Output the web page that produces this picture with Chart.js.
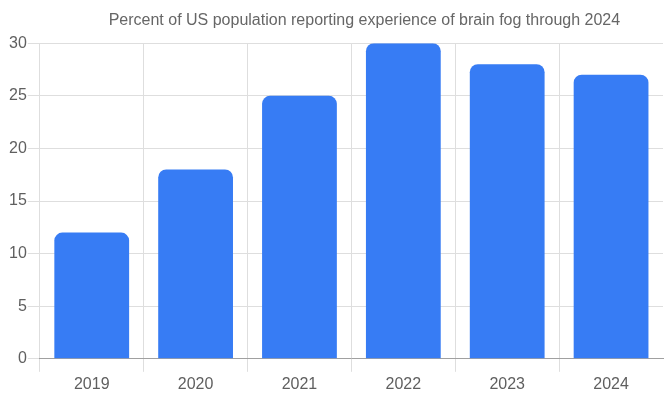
<!DOCTYPE html>
<html>
<head>
<meta charset="utf-8">
<script src="https://cdn.jsdelivr.net/npm/chart.js@4/dist/chart.umd.min.js"></script>
<style>
  html, body { margin: 0; padding: 0; background: #fff; }
  #wrap { width: 667px; height: 400px; position: relative; }
</style>
</head>
<body>
<div id="wrap"><canvas id="myChart"></canvas></div>
<script>
const years = ['2019', '2020', '2021', '2022', '2023', '2024'];
const percents = [12, 18, 25, 30, 28, 27];
const yTicks = [0, 5, 10, 15, 20, 25, 30];
const titleText = 'Percent of US population reporting experience of brain fog through 2024';

const FONT = "'Liberation Sans', Arial, sans-serif";

// title is centred over the plot area, nudged a little right as in the original
const shiftedTitle = {
    id: 'shiftedTitle',
    afterDraw(chart) {
        const c = chart.ctx;
        const area = chart.chartArea;
        const t = chart.titleBlock;
        c.save();
        c.font = '16px ' + FONT;
        c.fillStyle = '#666';
        c.textAlign = 'center';
        c.textBaseline = 'middle';
        c.fillText(titleText, (area.left + area.right) / 2 + 13, t.top + 5 + 9.6);
        c.restore();
    }
};

const ctx = document.getElementById('myChart');

let data = {
    labels: years,
    datasets: [{
        label: 'Percent',
        data: percents,
        backgroundColor: '#377cf4',
        borderRadius: { topLeft: 8, topRight: 8, bottomLeft: 0, bottomRight: 0 },
        borderSkipped: 'bottom'
    }]
};

let options = {
    maintainAspectRatio: false,
    animation: false,
    layout: { padding: { left: 8, right: 4, top: 6, bottom: 3 } },
    plugins: {
        legend: { display: false },
        tooltip: { enabled: false },
        title: {
            display: true,
            text: titleText,
            color: 'rgba(0,0,0,0)',
            font: { family: FONT, size: 16, weight: 'normal' },
            padding: { top: 5, bottom: 13 }
        }
    },
    scales: {
        x: {
            grid: {
                // the closing line on the far right has no tick context
                color: (c) => c.tick ? '#dedede' : 'rgba(0,0,0,0)',
                tickLength: 13,
                offset: true
            },
            border: { color: '#a0a0a0' },
            ticks: { color: '#5f5f5f', font: { family: FONT, size: 16 }, padding: 3 }
        },
        y: {
            min: 0,
            max: 30,
            afterBuildTicks: (axis) => { axis.ticks = yTicks.map(v => ({ value: v })); },
            grid: { color: '#dedede', tickLength: 12 },
            border: { display: false },
            ticks: { color: '#5f5f5f', font: { family: FONT, size: 16 }, padding: 1 }
        }
    }
};

new Chart(ctx, { type: 'bar', data: data, options: options, plugins: [shiftedTitle] });
</script>
</body>
</html>
